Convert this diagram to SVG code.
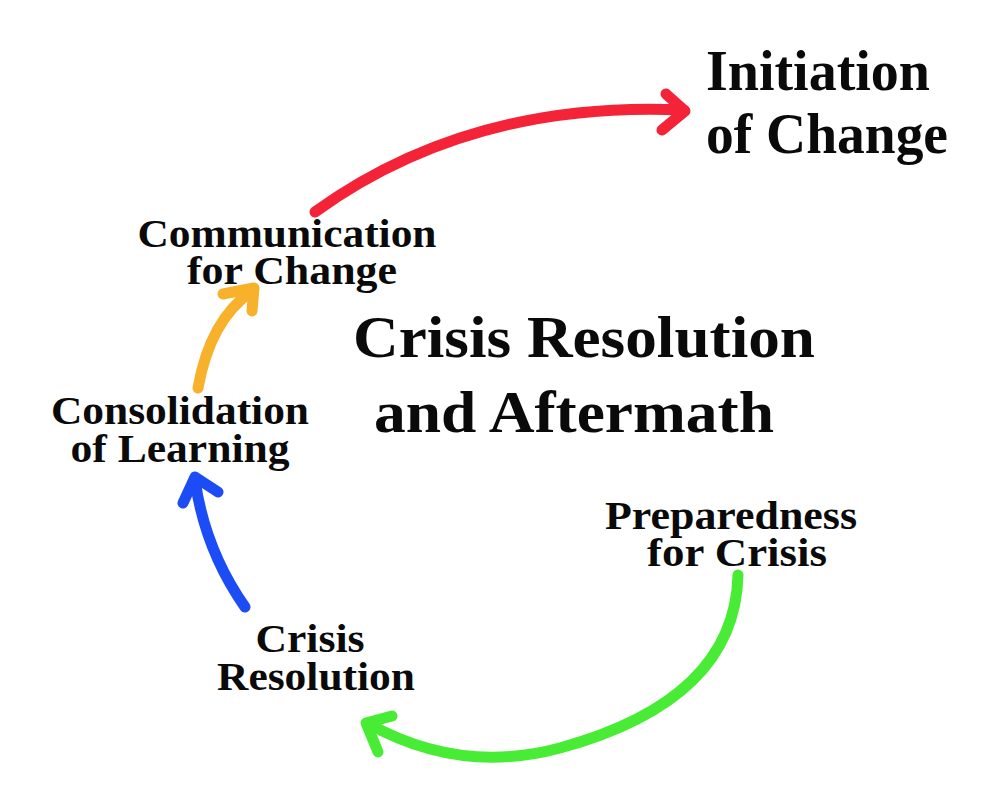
<svg xmlns="http://www.w3.org/2000/svg" width="1000" height="808" viewBox="0 0 1000 808">
<style>
.t{font-family:"Liberation Serif","Times New Roman",serif;font-weight:bold;fill:#0a0a0a}
.s{font-size:40px;text-anchor:middle}
.a{fill:none;stroke-width:11;stroke-linecap:round;stroke-linejoin:round}
</style>
<rect width="1000" height="808" fill="#ffffff"/>
<g id="connectors">
<g id="arrow-red" class="a" stroke="#f42338">
<path d="M315,212 Q470,100 684,110"/>
<path d="M666,94 L685,111 L662,130"/>
</g>
<g id="arrow-orange" class="a" stroke="#f8b12a">
<path d="M198,388 Q210,320 252,291"/>
<path d="M223,294 L254,288 L252,311"/>
</g>
<g id="arrow-blue" class="a" stroke="#1c4cf5">
<path d="M245,607 Q205,550 195,480"/>
<path d="M183,503 L195,477 L218,492"/>
</g>
<g id="arrow-green" class="a" stroke="#48ec35">
<path d="M738,575 Q735,700 560,748 Q460,775 367,723"/>
<path d="M392,716 L366,723 L378,752"/>
</g>
</g>
<g id="node-initiation">
<text class="t" x="706" y="90" font-size="56" textLength="224" lengthAdjust="spacingAndGlyphs">Initiation</text>
<text class="t" x="706" y="153" font-size="56" textLength="242" lengthAdjust="spacingAndGlyphs">of Change</text>
</g>
<g id="node-title">
<text class="t" x="584" y="357" font-size="60" text-anchor="middle" textLength="462" lengthAdjust="spacingAndGlyphs">Crisis Resolution</text>
<text class="t" x="574" y="432" font-size="60" text-anchor="middle" textLength="400" lengthAdjust="spacingAndGlyphs">and Aftermath</text>
</g>
<g id="node-communication">
<text class="t s" x="287" y="247" textLength="299" lengthAdjust="spacingAndGlyphs">Communication</text>
<text class="t s" x="292" y="284" textLength="210" lengthAdjust="spacingAndGlyphs">for Change</text>
</g>
<g id="node-consolidation">
<text class="t s" x="180" y="424" textLength="258" lengthAdjust="spacingAndGlyphs">Consolidation</text>
<text class="t s" x="180" y="462" textLength="219" lengthAdjust="spacingAndGlyphs">of Learning</text>
</g>
<g id="node-preparedness">
<text class="t s" x="731" y="529" textLength="252" lengthAdjust="spacingAndGlyphs">Preparedness</text>
<text class="t s" x="737" y="566" textLength="180" lengthAdjust="spacingAndGlyphs">for Crisis</text>
</g>
<g id="node-resolution">
<text class="t s" x="310" y="652" textLength="109" lengthAdjust="spacingAndGlyphs">Crisis</text>
<text class="t s" x="316" y="690" textLength="198" lengthAdjust="spacingAndGlyphs">Resolution</text>
</g>
</svg>
